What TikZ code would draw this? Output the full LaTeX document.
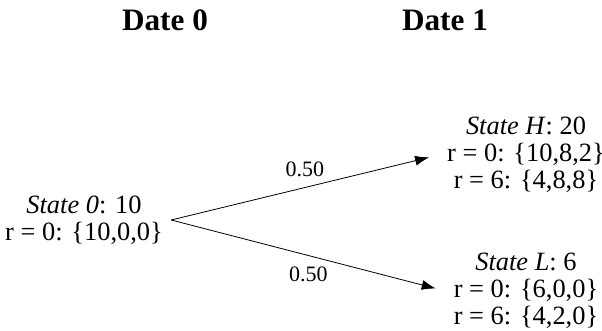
\documentclass[tikz,border=0pt]{standalone}
\usepackage{fontspec}
\setmainfont{Liberation Serif}
\usepackage{tikz}
\usetikzlibrary{arrows.meta}

\begin{document}
\begin{tikzpicture}[x=0.5pt,y=-0.5pt]
\tikzstyle{state}=[align=center,inner sep=4pt,font=\fontsize{13.2}{13.5}\selectfont];
\tikzstyle{prob}=[font=\fontsize{11}{12}\selectfont,inner sep=2pt];
\tikzstyle{date}=[font=\fontsize{15.6}{17}\selectfont\bfseries];
\tikzstyle{branch}=[-{Latex[length=7pt,width=5pt]},shorten >=5pt];
\useasboundingbox (0,0) rectangle (602,331);
\node[date] (d0) at (165,20) {Date 0};
\node[date] (d1) at (445,20) {Date 1};
\node[state] (s0) at (84,220) {\textit{State 0}: 10\\ r = 0: \{10,0,0\}};
\node[state] (sH) at (526,155) {\textit{State H}: 20\\ r = 0: \{10,8,2\}\\ r = 6: \{4,8,8\}};
\node[state] (sL) at (526,291) {\textit{State L}: 6\\ r = 0: \{6,0,0\}\\ r = 6: \{4,2,0\}};
\draw[branch] (s0.east) -- node[prob,midway,above=3pt] (pH) {0.50} (sH.west);
\draw[branch] (s0.east) -- node[prob,midway,below=3.5pt] (pL) {0.50} (sL.west);
\end{tikzpicture}
\end{document}
